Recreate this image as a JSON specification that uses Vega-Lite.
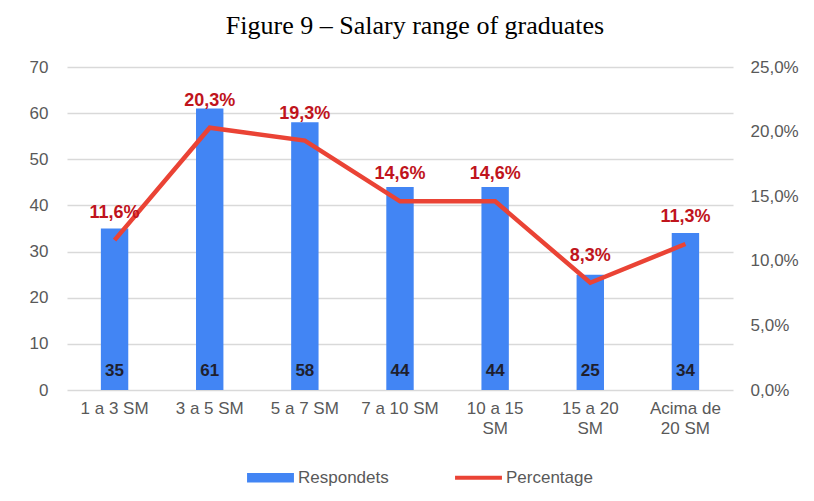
{
  "$schema": "https://vega.github.io/schema/vega-lite/v6.json",
  "width": 666,
  "height": 323,
  "autosize": {"type": "none"},
  "padding": {"left": 67, "top": 67, "right": 81, "bottom": 111},
  "background": "white",
  "title": {
    "text": "Figure 9 – Salary range of graduates",
    "font": "Liberation Serif",
    "fontSize": 26,
    "fontWeight": "normal",
    "color": "black",
    "anchor": "middle",
    "dx": 15,
    "offset": 19
  },
  "config": {
    "locale": {"number": {"decimal": ",", "thousands": ".", "grouping": [3], "currency": ["R$", ""]}},
    "view": {"stroke": null},
    "font": "Liberation Sans"
  },
  "data": {
    "values": [
      {"faixa": "1 a 3 SM", "respondents": 35, "pct": 0.116},
      {"faixa": "3 a 5 SM", "respondents": 61, "pct": 0.203},
      {"faixa": "5 a 7 SM", "respondents": 58, "pct": 0.193},
      {"faixa": "7 a 10 SM", "respondents": 44, "pct": 0.146},
      {"faixa": "10 a 15 SM", "respondents": 44, "pct": 0.146},
      {"faixa": "15 a 20 SM", "respondents": 25, "pct": 0.083},
      {"faixa": "Acima de 20 SM", "respondents": 34, "pct": 0.113}
    ]
  },
  "encoding": {
    "x": {
      "field": "faixa",
      "type": "nominal",
      "sort": null,
      "title": null,
      "axis": {
        "labelAngle": 0,
        "labelFontSize": 17,
        "labelColor": "#595959",
        "labelPadding": 10,
        "ticks": false,
        "domain": false,
        "labelLineHeight": 20,
        "labelExpr": "datum.label == 'Acima de 20 SM' ? ['Acima de', '20 SM'] : length(datum.label) > 9 ? [slice(datum.label, 0, 7), 'SM'] : datum.label"
      }
    }
  },
  "layer": [
    {
      "layer": [
        {
          "mark": {"type": "bar", "width": {"band": 0.32}},
          "encoding": {
            "y": {
              "field": "respondents",
              "type": "quantitative",
              "title": null,
              "scale": {"domain": [0, 70], "nice": false},
              "axis": {
                "values": [0, 10, 20, 30, 40, 50, 60, 70],
                "labelFontSize": 17,
                "labelColor": "#595959",
                "labelPadding": 19,
                "ticks": false,
                "domain": false,
                "gridColor": "#d9d9d9",
                "gridWidth": 1.5
              }
            },
            "color": {
              "datum": "Respondets",
              "type": "nominal",
              "scale": {"domain": ["Respondets", "Percentage"], "range": ["#4285f4", "#ea4335"]},
              "legend": {
                "orient": "none",
                "legendX": 180,
                "legendY": 387,
                "direction": "horizontal",
                "title": null,
                "symbolSize": 2200,
                "symbolStrokeWidth": 0,
                "labelFontSize": 17,
                "labelColor": "#595959",
                "labelOffset": 4,
                "columnPadding": 66,
                "symbolOpacity": 1,
                "encode": {
                  "symbols": {
                    "update": {
                      "shape": {"signal": "datum.value == 'Respondets' ? 'M-1,-0.2H1V0.2H-1Z' : 'M-1,-0.09H1V0.09H-1Z'"},
                      "fill": {"signal": "datum.value == 'Respondets' ? '#4285f4' : '#ea4335'"},
                      "strokeWidth": {"value": 0}
                    }
                  }
                }
              }
            }
          }
        },
        {
          "mark": {"type": "text", "fontWeight": "bold", "fontSize": 17, "color": "#1f1f2e", "baseline": "middle", "dy": -19},
          "encoding": {
            "y": {"datum": 0, "type": "quantitative"},
            "text": {"field": "respondents", "type": "quantitative"}
          }
        }
      ]
    },
    {
      "layer": [
        {
          "mark": {"type": "line", "strokeWidth": 4.5, "strokeJoin": "miter"},
          "encoding": {
            "y": {
              "field": "pct",
              "type": "quantitative",
              "title": null,
              "scale": {"domain": [0, 0.25], "nice": false},
              "axis": {
                "orient": "right",
                "values": [0, 0.05, 0.1, 0.15, 0.2, 0.25],
                "format": ".1%",
                "labelFontSize": 17,
                "labelColor": "#595959",
                "labelPadding": 17,
                "ticks": false,
                "domain": false,
                "grid": false
              }
            },
            "color": {"datum": "Percentage", "type": "nominal"}
          }
        },
        {
          "mark": {"type": "text", "fontWeight": "bold", "fontSize": 18, "color": "#c0141c", "baseline": "middle", "dy": -27},
          "encoding": {
            "y": {"field": "pct", "type": "quantitative"},
            "text": {"field": "pct", "type": "quantitative", "format": ".1%"}
          }
        }
      ]
    }
  ],
  "resolve": {"scale": {"y": "independent"}}
}
